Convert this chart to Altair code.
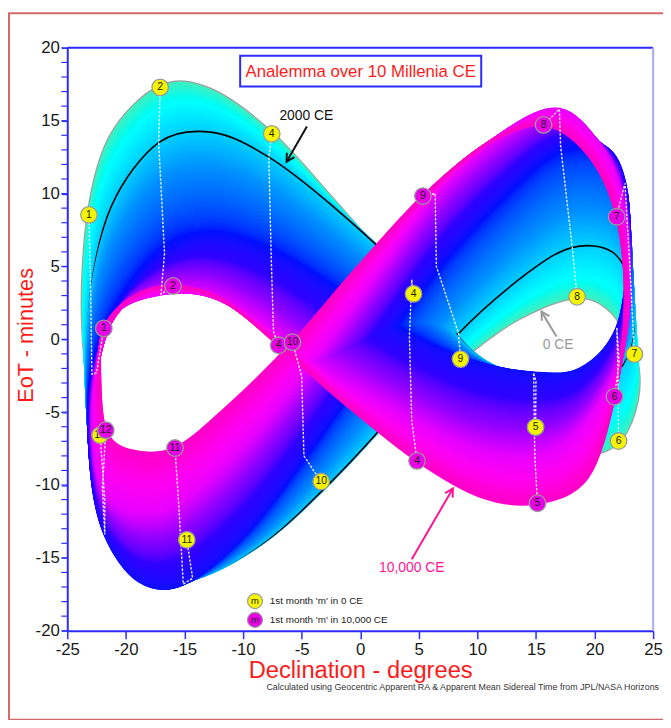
import math
import altair as alt
import pandas as pd

# ---------------- data ----------------
DATES = ["Jan 1", "Jan 15", "Feb 1", "Feb 15", "Mar 1", "Mar 15", "Apr 1", "Apr 15",
         "May 1", "May 15", "Jun 1", "Jun 15", "Jul 1", "Jul 15", "Aug 1", "Aug 15",
         "Sep 1", "Sep 15", "Oct 1", "Oct 15", "Nov 1", "Nov 15", "Dec 1", "Dec 15"]

DEC_0CE = [-23.15, -21.2, -17.07, -12.8, -7.55, -2.4, 4.55, 9.6, 14.97, 19.0, 22.05, 23.6,
           23.4, 21.5, 18.51, 13.6, 8.56, 1.8, -3.33, -9.8, -14.8, -19.4, -22.2, -23.6]
EOT_0CE = [8.54, 14.0, 17.29, 17.1, 14.1, 9.6, 3.12, -2.3, -6.03, -7.75, -6.98, -4.1,
           -1.02, 1.9, 2.92, 1.5, -1.36, -5.9, -9.76, -13.1, -13.76, -11.1, -6.58, 0.65]

DEC_2000CE = [-23.0, -21.2, -17.2, -12.6, -7.8, -2.3, 4.4, 9.8, 15.0, 18.8, 22.0, 23.3,
              23.1, 21.5, 18.1, 14.2, 8.4, 3.1, -3.0, -8.5, -14.3, -18.5, -21.8, -23.3]
EOT_2000CE = [3.2, 9.2, 13.5, 14.2, 12.5, 9.1, 4.1, -1.0, -2.9, -3.7, -2.2, 0.3,
              3.7, 6.0, 6.3, 4.5, 0.4, -4.9, -10.2, -14.1, -16.4, -15.4, -11.0, -4.7]

DEC_5000CE = [-22.9, -20.6, -16.7, -12.5, -7.6, -2.3, 4.2, 9.4, 14.8, 18.8, 21.9, 22.9,
              22.6, 20.9, 17.1, 13.0, 6.5, 1.0, -4.8, -9.8, -15.1, -18.9, -21.8, -23.0]
EOT_5000CE = [-2.4, 2.2, 5.9, 6.9, 5.8, 3.35, 0.2, -1.5, -2.3, -2.0, 0.8, 6.0,
              10.7, 13.2, 13.3, 10.7, 5.0, -1.2, -8.0, -13.3, -16.8, -16.6, -13.4, -8.7]

DEC_8000CE = [-22.5, -21.0, -17.0, -12.6, -7.4, -2.0, 4.4, 9.7, 14.9, 18.8, 22.1, 23.0,
              22.3, 20.4, 17.0, 12.4, 6.4, 0.9, -5.0, -10.4, -15.5, -19.4, -22.0, -22.8]
EOT_8000CE = [-2.3, 1.7, 3.1, 2.9, 0.5, -2.8, -5.6, -7.6, -8.0, -6.2, -1.6, 3.6,
              9.8, 13.4, 15.8, 14.3, 10.0, 4.0, -2.5, -7.6, -11.2, -11.8, -10.2, -6.5]

DEC_10000CE = [-21.88, -19.4, -15.98, -11.7, -6.96, -1.2, 4.85, 10.3, 15.13, 19.4, 21.7, 22.6,
               21.89, 19.5, 15.65, 10.8, 5.35, -0.3, -5.78, -11.2, -15.81, -19.7, -21.71, -22.2]
EOT_10000CE = [0.75, 2.9, 3.66, 2.7, -0.41, -4.5, -8.34, -10.8, -11.25, -9.5, -3.93, 2.3,
               8.41, 12.6, 14.71, 13.4, 9.83, 4.9, -0.2, -4.5, -7.46, -7.6, -6.24, -2.8]

KEY_YEARS = [0, 2000, 5000, 8000, 10000]
KEY_DEC = [DEC_0CE, DEC_2000CE, DEC_5000CE, DEC_8000CE, DEC_10000CE]
KEY_EOT = [EOT_0CE, EOT_2000CE, EOT_5000CE, EOT_8000CE, EOT_10000CE]
SWEEP_STEP = 50  # years between drawn analemmas

LABELS_0CE = ["1", "2", "4", "4", "5", "6", "7", "8", "9", "10", "11", "12"]
LABELS_10000CE = ["1", "2", "4", "4", "5", "6", "7", "8", "9", "10", "11", "12"]

ANN_TEXT = ["2000 CE", "0 CE", "10,000 CE"]
ANN_X = [-4.6, 16.9, 4.4]
ANN_Y = [15.3, -0.4, -15.7]
ARR_X0 = [-4.55, 16.75, 4.4]
ARR_Y0 = [14.6, 0.2, -15.1]
ARR_X1 = [-6.28, 15.47, 7.91]
ARR_Y1 = [12.18, 1.9, -10.24]
ANN_COLOR = ["#111111", "#9a9a9a", "#ff1493"]

TITLE = "Analemma over 10 Millenia CE"
X_TITLE = "Declination - degrees"
Y_TITLE = "EoT - minutes"
FOOTNOTE = "Calculated using Geocentric Apparent RA & Apparent Mean Sidereal Time from JPL/NASA Horizons"
LEGEND_TEXT = ["1st month 'm' in 0 CE", "1st month 'm' in 10,000 CE"]

# ---------------- build tables ----------------
W, H = 593, 590
FONT = "Liberation Sans"
BLUE = "#2b2bff"

rows = []
for yr in range(0, 10001, SWEEP_STEP):
    for k in range(len(KEY_YEARS) - 1):
        if KEY_YEARS[k] <= yr <= KEY_YEARS[k + 1]:
            break
    t = (yr - KEY_YEARS[k]) / (KEY_YEARS[k + 1] - KEY_YEARS[k])
    for i in range(len(DATES)):
        rows.append({
            "year": yr, "idx": i,
            "x": KEY_DEC[k][i] * (1 - t) + KEY_DEC[k + 1][i] * t,
            "y": KEY_EOT[k][i] * (1 - t) + KEY_EOT[k + 1][i] * t,
        })
sweep_df = pd.DataFrame(rows)

curve0 = pd.DataFrame({"x": DEC_0CE, "y": EOT_0CE, "idx": range(24)})
curve2000 = pd.DataFrame({"x": DEC_2000CE, "y": EOT_2000CE, "idx": range(24)})

track_rows = []
for m in range(12):
    for k, yr in enumerate(KEY_YEARS):
        track_rows.append({"m": m, "year": yr, "x": KEY_DEC[k][2 * m], "y": KEY_EOT[k][2 * m]})
tracks_df = pd.DataFrame(track_rows)

mk0 = pd.DataFrame({"x": [DEC_0CE[2 * m] for m in range(12)],
                    "y": [EOT_0CE[2 * m] for m in range(12)], "label": LABELS_0CE})
mk10 = pd.DataFrame({"x": [DEC_10000CE[2 * m] for m in range(12)],
                     "y": [EOT_10000CE[2 * m] for m in range(12)], "label": LABELS_10000CE})

px_x, px_y = W / 50.0, H / 40.0
angles = []
for i in range(3):
    dx = (ARR_X1[i] - ARR_X0[i]) * px_x
    dy = -(ARR_Y1[i] - ARR_Y0[i]) * px_y
    angles.append(math.degrees(math.atan2(dx, -dy)) % 360)
ann_df = pd.DataFrame({"text": ANN_TEXT, "tx": ANN_X, "ty": ANN_Y, "x0": ARR_X0, "y0": ARR_Y0,
                       "x1": ARR_X1, "y1": ARR_Y1, "col": ANN_COLOR, "ang": angles})

one = pd.DataFrame({"a": [0]})

XS = alt.Scale(domain=[-25, 25], nice=False, zero=False)
YS = alt.Scale(domain=[-20, 20], nice=False, zero=False)

x_axis = alt.Axis(values=list(range(-25, 26, 5)), title=None, grid=False, domainColor=BLUE,
                  domainWidth=2, tickColor=BLUE, tickWidth=1.5, tickSize=8, labelFontSize=17,
                  labelColor="#1a1a1a", labelFont=FONT, labelPadding=3, labelFlush=False,
                  labelOverlap=False, labelExpr="'' + datum.value")
y_axis = alt.Axis(values=list(range(-20, 21, 5)), title=None, grid=False, domainColor=BLUE,
                  domainWidth=2, tickColor=BLUE, tickWidth=1.2, tickSize=6, labelFontSize=17,
                  labelColor="#1a1a1a", labelFont=FONT, labelPadding=2, labelFlush=False,
                  labelOverlap=False, labelExpr="'' + datum.value")


def X(f="x"):
    return alt.X(f"{f}:Q", scale=XS, axis=x_axis)


def Y(f="y"):
    return alt.Y(f"{f}:Q", scale=YS, axis=y_axis)


color_scale = alt.Scale(
    domain=[0, 800, 2000, 3000, 4800, 6000, 7000, 8000, 9000, 10000],
    range=["#3cf0c0", "#00ffff", "#00d0ff", "#0090ff", "#0010ff", "#3000ff", "#9000ff",
           "#e800ff", "#ff00f0", "#ff00c8"],
)

layers = []

# outer frame
layers.append(alt.Chart(one).mark_rect(fillOpacity=0, stroke="#d46a6a", strokeWidth=2).encode(
    x=alt.value(-59), x2=alt.value(700), y=alt.value(-35), y2=alt.value(680)))

# grey 0 CE outline
layers.append(alt.Chart(curve0).mark_line(interpolate="cardinal-closed", color="#a0a0a0",
                                          strokeWidth=5).encode(
    x=X(), y=Y(), order="idx:Q"))

sweep_base = alt.Chart(sweep_df).mark_line(interpolate="cardinal-closed", strokeWidth=2.7)
enc = dict(x=X(), y=Y(), color=alt.Color("year:Q", scale=color_scale, legend=None),
           detail="year:Q", order="idx:Q")
layers.append(sweep_base.transform_filter("datum.year <= 2150").encode(**enc))

# 2000 CE
layers.append(alt.Chart(curve2000).mark_line(interpolate="cardinal-closed", color="#000000",
                                             strokeWidth=1.6).encode(
    x=X(), y=Y(), order="idx:Q"))

layers.append(sweep_base.transform_filter("datum.year > 2150").encode(**enc))

# month tracks
layers.append(alt.Chart(tracks_df).mark_line(color="white", strokeWidth=1.4, opacity=0.9,
                                             strokeDash=[2.5, 1.5]).encode(
    x=X(), y=Y(), detail="m:N", order="year:Q"))

# minor y ticks
layers.append(alt.Chart(pd.DataFrame({"v": list(range(-20, 21))})).mark_rule(
    color=BLUE, strokeWidth=1.2).encode(y=Y("v"), x=alt.value(-6), x2=alt.value(0)))

# month markers
for df, fill in [(mk0, "#f5f500"), (mk10, "#e800e8")]:
    layers.append(alt.Chart(df).mark_circle(size=280, color=fill, opacity=1, stroke="#9a9a9a",
                                            strokeWidth=1.3).encode(x=X(), y=Y()))
    layers.append(alt.Chart(df).mark_text(fontSize=10.5, font=FONT, color="#222222",
                                          baseline="middle", align="center").encode(
        x=X(), y=Y(), text="label:N"))

# annotations
layers.append(alt.Chart(ann_df).mark_rule(strokeWidth=2).encode(
    x=X("x0"), y=Y("y0"), x2="x1:Q", y2="y1:Q", color=alt.Color("col:N", scale=None)))
layers.append(alt.Chart(ann_df).mark_point(shape="M-0.55,1L0,0L0.55,1", filled=False, size=260,
                                           strokeWidth=2, opacity=1).encode(
    x=X("x1"), y=Y("y1"), color=alt.Color("col:N", scale=None),
    angle=alt.Angle("ang:Q", scale=None)))
layers.append(alt.Chart(ann_df).mark_text(fontSize=14, font=FONT, baseline="middle",
                                          align="center").encode(
    x=X("tx"), y=Y("ty"), text="text:N", color=alt.Color("col:N", scale=None)))

# title box
layers.append(alt.Chart(one).mark_rect(fill="white", stroke=BLUE, strokeWidth=2).encode(
    x=alt.value(175), x2=alt.value(419), y=alt.value(8), y2=alt.value(39)))
layers.append(alt.Chart(one).mark_text(text=TITLE, fontSize=17, font=FONT, color="#ff1a1a",
                                       align="center", baseline="middle").encode(
    x=alt.value(297), y=alt.value(24)))

# legend
for j, fill in enumerate(["#f5f500", "#e800e8"]):
    yy = 560 + 19 * j
    layers.append(alt.Chart(one).mark_circle(size=230, color=fill, opacity=1, stroke="#9a9a9a",
                                             strokeWidth=1.2).encode(
        x=alt.value(190), y=alt.value(yy)))
    layers.append(alt.Chart(one).mark_text(text="m", fontSize=9.5, font=FONT, color="#222222",
                                           align="center", baseline="middle").encode(
        x=alt.value(190), y=alt.value(yy)))
    layers.append(alt.Chart(one).mark_text(text=LEGEND_TEXT[j], fontSize=10, font=FONT,
                                           color="#222222", align="left",
                                           baseline="middle").encode(
        x=alt.value(205), y=alt.value(yy)))

# axis titles & footnote
layers.append(alt.Chart(one).mark_text(text=Y_TITLE, fontSize=22, font=FONT, color="#ff1a1a",
                                       angle=270, align="center", baseline="middle").encode(
    x=alt.value(-42), y=alt.value(291)))
layers.append(alt.Chart(one).mark_text(text=X_TITLE, fontSize=24, font=FONT, color="#ff1a1a",
                                       align="center", baseline="middle").encode(
    x=alt.value(297), y=alt.value(631)))
layers.append(alt.Chart(one).mark_text(text=FOOTNOTE, fontSize=9, font=FONT, color="#333333",
                                       align="right", baseline="middle").encode(
    x=alt.value(599), y=alt.value(647)))

# top and right plot borders
layers.append(alt.Chart(one).mark_rule(color=BLUE, strokeWidth=2).encode(
    x=alt.value(0), x2=alt.value(W), y=alt.value(0)))
layers.append(alt.Chart(one).mark_rule(color="#a8a8ff", strokeWidth=2).encode(
    x=alt.value(W), y=alt.value(0), y2=alt.value(H)))

chart = alt.layer(*layers).properties(
    width=W, height=H, autosize="none",
    padding={"left": 60, "top": 36, "right": 10, "bottom": 86},
).configure_view(stroke=None)

chart.save("out.html", embed_options={"renderer": "svg", "actions": False})
